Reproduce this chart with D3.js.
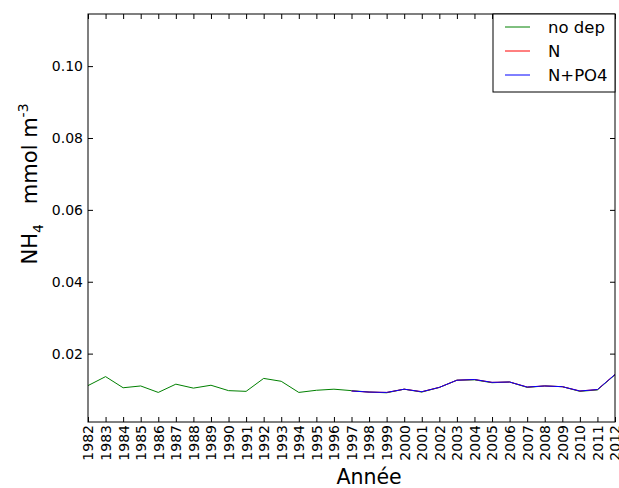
<!DOCTYPE html>
<html>
<head>
<meta charset="utf-8">
<script src="https://cdn.jsdelivr.net/npm/d3@7"></script>
<style>
  body { margin: 0; background: #fff; }
  text { font-family: "DejaVu Sans", sans-serif; }
</style>
</head>
<body>
<svg></svg>
<script>
const width = 619;
const height = 488;

const years = d3.range(1982, 2013);
const noDep = [0.0111, 0.0136, 0.0105, 0.0110, 0.0092, 0.0115, 0.0104, 0.0112, 0.0097, 0.0095,
	0.0131, 0.0123, 0.0092, 0.0098, 0.0101, 0.0097, 0.0093, 0.0091, 0.0101, 0.0093,
	0.0106, 0.0126, 0.0127, 0.0119, 0.0121, 0.0106, 0.0110, 0.0108, 0.0095, 0.0099, 0.0141];
const depYears = d3.range(1997, 2013);
const nDep = [0.0096, 0.0093, 0.0092, 0.0101, 0.0094, 0.0106, 0.0126, 0.0128, 0.0120, 0.0121,
	0.0107, 0.0110, 0.0108, 0.0096, 0.0100, 0.0142];
const npo4Dep = [0.0096, 0.0093, 0.0092, 0.0101, 0.0094, 0.0106, 0.0126, 0.0128, 0.0120, 0.0121,
	0.0107, 0.0110, 0.0108, 0.0096, 0.0100, 0.0142];
const yTicks = [0.02, 0.04, 0.06, 0.08, 0.10];

const margin = { left: 88, right: 4, top: 14, bottom: 66 };
const innerW = width - margin.left - margin.right;
const innerH = height - margin.top - margin.bottom;

const svg = d3.select('svg')
	.attr('width', width)
	.attr('height', height);

const x = d3.scaleLinear().domain([1982, 2012]).range([margin.left, margin.left + innerW]);
const y = d3.scaleLinear().domain([0.00097, 0.1145]).range([margin.top + innerH, margin.top]);

const series = [
	{ name: 'no dep', color: '#008000', xs: years, ys: noDep },
	{ name: 'N', color: '#ff0000', xs: depYears, ys: nDep },
	{ name: 'N+PO4', color: '#0000ff', xs: depYears, ys: npo4Dep }
];

const line = d3.line()
	.x(d => x(d[0]))
	.y(d => y(d[1]));

svg.append('g')
	.selectAll('path')
	.data(series)
	.enter().append('path')
		.attr('fill', 'none')
		.attr('stroke', d => d.color)
		.attr('stroke-width', 1)
		.attr('d', d => line(d.xs.map((v, i) => [v, d.ys[i]])));

// axes, ticks pointing inward on all four sides
const bottom = margin.top + innerH;
const right = margin.left + innerW;

const xAxis = svg.append('g')
	.attr('transform', `translate(0,${bottom})`)
	.call(d3.axisBottom(x).tickValues(years).tickFormat(d3.format('d')).tickSizeInner(-5).tickSizeOuter(0));
xAxis.select('.domain').remove();
xAxis.selectAll('line').attr('stroke', '#000');
xAxis.selectAll('text')
	.attr('transform', 'rotate(-90)')
	.attr('text-anchor', 'end')
	.attr('x', -3)
	.attr('y', 0)
	.attr('dy', '0.35em')
	.style('font-size', '14px')
	.attr('fill', '#000');

const xTop = svg.append('g')
	.attr('transform', `translate(0,${margin.top})`)
	.call(d3.axisTop(x).tickValues(years).tickFormat('').tickSizeInner(-5).tickSizeOuter(0));
xTop.select('.domain').remove();

const yAxis = svg.append('g')
	.attr('transform', `translate(${margin.left},0)`)
	.call(d3.axisLeft(y).tickValues(yTicks).tickFormat(d3.format('.2f')).tickSizeInner(-5).tickSizeOuter(0).tickPadding(5));
yAxis.select('.domain').remove();
yAxis.selectAll('text').style('font-size', '14px').attr('fill', '#000');

const yRight = svg.append('g')
	.attr('transform', `translate(${right},0)`)
	.call(d3.axisRight(y).tickValues(yTicks).tickFormat('').tickSizeInner(-5).tickSizeOuter(0));
yRight.select('.domain').remove();

svg.append('rect')
	.attr('x', margin.left)
	.attr('y', margin.top)
	.attr('width', innerW)
	.attr('height', innerH)
	.attr('fill', 'none')
	.attr('stroke', '#000')
	.attr('stroke-width', 1);

// axis labels
svg.append('text')
	.attr('x', 369)
	.attr('y', 484)
	.attr('text-anchor', 'middle')
	.style('font-size', '20.5px')
	.text('Année');

const yLabel = svg.append('text')
	.attr('transform', `translate(37,184) rotate(-90)`)
	.attr('text-anchor', 'middle')
	.style('font-size', '21px');
yLabel.append('tspan').text('NH');
yLabel.append('tspan').attr('dy', 6).style('font-size', '14px').text('4');
yLabel.append('tspan').attr('dy', -6).text('\u00a0\u00a0\u00a0mmol m');
yLabel.append('tspan').attr('dy', -9).style('font-size', '14px').text('-3');

// legend
const legend = svg.append('g').attr('transform', `translate(493,${margin.top})`);
legend.append('rect')
	.attr('width', right - 493)
	.attr('height', 78)
	.attr('fill', '#fff')
	.attr('stroke', '#000');
const item = legend.selectAll('g.item')
	.data(series)
	.enter().append('g')
		.attr('class', 'item')
		.attr('transform', (d, i) => `translate(0,${13 + i * 24})`);
item.append('line')
	.attr('x1', 12).attr('x2', 37)
	.attr('stroke', d => d.color);
item.append('text')
	.attr('x', 55)
	.attr('dy', '0.35em')
	.style('font-size', '16.5px')
	.text(d => d.name);
</script>
</body>
</html>
